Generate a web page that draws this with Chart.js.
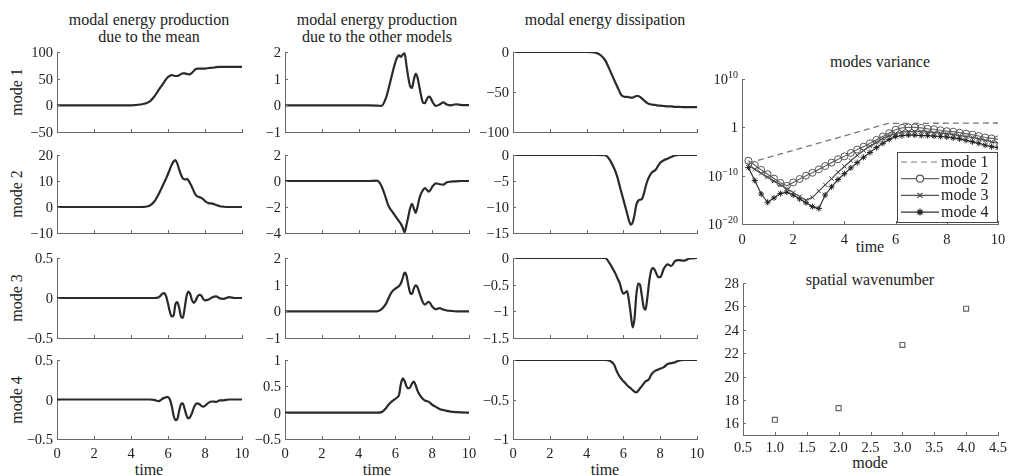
<!DOCTYPE html>
<html>
<head>
<meta charset="utf-8">
<script src="https://cdn.jsdelivr.net/npm/chart.js@4.4.1/dist/chart.umd.min.js"></script>
<style>
  body { margin: 0; background: #fff; width: 1011px; height: 476px; position: relative; overflow: hidden; font-family: "Liberation Serif", serif; color: #222; }
  .box { position: absolute; }
  .lbl { position: absolute; font-size: 16px; white-space: nowrap; transform: translate(-50%, -50%); line-height: 1; }
  .rot { transform: translate(-50%, -50%) rotate(-90deg); }
  .tk { position: absolute; font-size: 14.5px; line-height: 1; white-space: nowrap; }
  .tk sup { font-size: 10px; vertical-align: 6px; line-height: 0; }
  .tx { transform: translate(-50%, -50%); }
  .ty { transform: translate(-100%, -50%); }
  .lg { position: absolute; font-size: 16px; line-height: 1; white-space: nowrap; transform: translateY(-50%); }
</style>
</head>
<body>
<script>
// shared time samples for the 12 energy panels
const time = [0, 2, 4, 4.5, 5, 5.25, 5.5, 5.6, 5.7, 5.8, 5.9, 6.0, 6.1, 6.2, 6.3, 6.4, 6.5, 6.6, 6.7, 6.8, 6.9, 7.0,
  7.1, 7.2, 7.3, 7.4, 7.5, 7.6, 7.7, 7.8, 7.9, 8.0, 8.2, 8.4, 8.6, 8.8, 9.0, 9.3, 9.6, 10];

// production due to the mean
const meanMode1 = [0, 0, 0, 1.5, 7, 16, 29, 34, 39, 44, 49, 53, 55.5, 56.5, 56, 55, 55, 56.5, 58.5, 60, 60, 59,
  58, 58.5, 61, 65, 68, 69, 69, 69, 69, 69, 70, 70.5, 71.5, 72, 72, 72, 72, 72];
const meanMode2 = [0, 0, 0, 0, 0.5, 2, 5, 6.5, 8, 9.5, 11, 12.7, 14.5, 16.2, 17.5, 18, 16.8, 14.5, 12.5, 11, 10.6, 10.7,
  10.3, 9, 7.6, 6, 4.7, 4, 3.8, 3.5, 3, 2.3, 1.5, 1.3, 0.8, 0.3, 0.1, 0, 0, 0];
const meanMode3 = [0, 0, 0, 0, 0, 0, 0.01, 0.03, 0.055, 0.06, 0.02, -0.07, -0.17, -0.23, -0.22, -0.08, -0.05, -0.12, -0.23, -0.25, -0.13, 0.02,
  0.08, 0.05, -0.03, -0.06, -0.03, 0.02, 0.04, 0.03, -0.01, -0.03, -0.02, 0.01, 0.02, -0.005, -0.01, 0.01, 0, 0];
const meanMode4 = [0, 0, 0, 0, 0, -0.005, -0.02, -0.01, 0.01, 0.02, 0.03, 0.03, 0, -0.08, -0.2, -0.26, -0.25, -0.15, -0.06, -0.05, -0.12, -0.2,
  -0.24, -0.22, -0.17, -0.1, -0.06, -0.05, -0.06, -0.08, -0.09, -0.08, -0.04, -0.025, -0.03, -0.01, -0.01, 0, 0, 0];

// production due to the other modes
const otherMode1 = [0, 0, 0, 0, -0.01, -0.02, 0.3, 0.55, 0.82, 1.1, 1.38, 1.62, 1.8, 1.87, 1.82, 1.9, 1.95, 1.5, 1.05, 0.72, 0.65, 0.95,
  1.18, 1.05, 0.7, 0.35, 0.1, 0.08, 0.22, 0.33, 0.3, 0.15, -0.02, 0.03, 0.11, 0.03, 0, 0.04, 0.01, 0.01];
const otherMode2 = [0, 0, 0, 0, 0.03, -0.4, -1.4, -1.84, -2.1, -2.3, -2.5, -2.7, -2.9, -3.1, -3.3, -3.6, -3.95, -3.4, -2.75, -2.1, -1.75, -2.1,
  -2.45, -2.0, -1.35, -0.95, -0.7, -0.55, -0.65, -0.82, -0.7, -0.45, -0.18, -0.25, -0.28, -0.1, -0.05, -0.03, 0, 0];
const otherMode3 = [0, 0, 0, 0, 0, 0.08, 0.3, 0.45, 0.6, 0.72, 0.8, 0.85, 0.9, 0.95, 1.05, 1.25, 1.45, 1.35, 1.0, 0.7, 0.65, 0.85,
  0.97, 0.9, 0.7, 0.5, 0.33, 0.25, 0.3, 0.36, 0.3, 0.18, 0.08, 0.12, 0.07, 0.03, 0.02, 0, 0, 0];
const otherMode4 = [0, 0, 0, 0, 0, 0.01, 0.09, 0.14, 0.18, 0.21, 0.24, 0.26, 0.29, 0.34, 0.55, 0.65, 0.6, 0.5, 0.46, 0.48, 0.55, 0.59,
  0.52, 0.42, 0.35, 0.3, 0.26, 0.23, 0.22, 0.21, 0.18, 0.15, 0.11, 0.07, 0.05, 0.035, 0.02, 0.01, 0.005, 0];

// dissipation
const dissMode1 = [0, 0, 0, -1, -10, -22, -35, -40, -45, -50, -54, -55.5, -56, -56, -56.5, -57, -57, -56, -55, -55, -56, -58,
  -60, -62, -64, -65, -65.5, -66, -66, -66.5, -67, -67, -67.5, -68, -68, -68.5, -68.5, -69, -69, -69];
const dissMode2 = [0, 0, 0, 0, -0.05, -0.9, -2.6, -3.5, -4.6, -6.0, -7.3, -8.6, -9.9, -11.2, -12.6, -13.4, -13, -11.6, -9.6, -8.8, -8.6, -8.5,
  -7.6, -6.2, -5.0, -4.2, -3.6, -3.2, -3.0, -2.6, -2.0, -1.5, -1.0, -0.7, -0.4, -0.1, 0, 0, 0, 0];
const dissMode3 = [0, 0, 0, 0, 0, -0.1, -0.25, -0.32, -0.4, -0.47, -0.6, -0.67, -0.65, -0.62, -0.8, -1.05, -1.3, -1.15, -0.7, -0.48, -0.5, -0.7,
  -0.92, -0.97, -0.75, -0.45, -0.25, -0.19, -0.22, -0.3, -0.36, -0.36, -0.2, -0.12, -0.15, -0.06, -0.04, -0.05, -0.01, 0];
const dissMode4 = [0, 0, 0, 0, 0, -0.01, -0.06, -0.12, -0.17, -0.21, -0.24, -0.27, -0.29, -0.32, -0.34, -0.36, -0.38, -0.4, -0.41, -0.39, -0.36, -0.33,
  -0.3, -0.27, -0.26, -0.24, -0.19, -0.16, -0.14, -0.13, -0.12, -0.11, -0.09, -0.05, -0.04, -0.03, -0.01, 0, 0, 0];

// y ranges [min, max, step] per panel (rows = modes, cols = mean / other / dissipation)
const yRanges = [
  [[-50, 100, 50], [-1, 2, 1], [-100, 0, 50]],
  [[-10, 20, 10], [-4, 2, 2], [-15, 0, 5]],
  [[-0.5, 0.5, 0.5], [-1, 2, 1], [-1.5, 0, 0.5]],
  [[-0.5, 0.5, 0.5], [-0.5, 1, 0.5], [-1, 0, 0.5]]
];
const series = [
  [meanMode1, otherMode1, dissMode1],
  [meanMode2, otherMode2, dissMode2],
  [meanMode3, otherMode3, dissMode3],
  [meanMode4, otherMode4, dissMode4]
];
const rowLabels = ['mode 1', 'mode 2', 'mode 3', 'mode 4'];
const timeTicks = [0, 2, 4, 6, 8, 10];

// modes variance, exponents of 10
const varTime = [0.25, 0.5, 0.75, 1, 1.25, 1.5, 1.75, 2, 2.25, 2.5, 2.75, 3, 3.25, 3.5, 3.75, 4, 4.25, 4.5, 4.75, 5,
  5.25, 5.5, 5.75, 6, 6.25, 6.5, 6.75, 7, 7.25, 7.5, 7.75, 8, 8.25, 8.5, 8.75, 9, 9.25, 9.5, 9.75, 10];
const varMode1Time = [0.25, 5.7, 10];
const varMode1Exp = [-7.4, 0.8, 0.9];
const varMode2Exp = [-6.9, -7.8, -8.8, -9.7, -10.6, -11.5, -12.1, -11.4, -10.7, -10.0, -9.4, -8.7, -8.0, -7.3, -6.6, -6.0, -5.3, -4.6, -4.0, -3.3,
  -2.6, -1.9, -1.2, -0.5, -0.1, 0, 0, -0.1, -0.3, -0.4, -0.6, -0.8, -0.9, -1.1, -1.3, -1.5, -1.8, -2.1, -2.3, -2.5];
const varMode3Exp = [-7.9, -8.7, -9.5, -10.3, -11.1, -11.9, -12.7, -13.5, -14.3, -15.1, -14.5, -13.2, -11.9, -10.6, -9.3, -8.1, -6.9, -5.8, -4.8, -3.9,
  -3.1, -2.3, -1.7, -1.3, -1.0, -0.9, -0.9, -0.9, -1.0, -1.1, -1.2, -1.3, -1.5, -1.7, -1.9, -2.1, -2.4, -2.7, -3.0, -3.3];
const varMode4Exp = [-8.3, -11.0, -13.8, -15.5, -14.6, -13.7, -13.4, -14.0, -14.8, -15.6, -16.4, -16.8, -14.0, -12.3, -10.8, -9.6, -8.4, -7.3, -6.2, -5.2,
  -4.2, -3.3, -2.5, -1.9, -1.7, -1.6, -1.6, -1.7, -1.7, -1.8, -1.9, -2.0, -2.2, -2.4, -2.7, -3.0, -3.3, -3.7, -4.0, -4.2];
const varTickExps = [-20, -10, 0, 10];

// spatial wavenumber
const modeNumbers = [1, 2, 3, 4];
const wavenumbers = [16.3, 17.3, 22.7, 25.8];
const waveYTicks = [16, 18, 20, 22, 24, 26, 28];
const modeXTicks = [0.5, 1.0, 1.5, 2.0, 2.5, 3.0, 3.5, 4.0, 4.5];

const AXIS = '#6a6a6a';
const LINE = '#2a2a2a';

function minus(v) { return String(v).replace('-', '\u2212'); }

const inwardTicks = {
  id: 'inwardTicks',
  afterDraw(chart) {
    const ctx = chart.ctx, a = chart.chartArea;
    const xs = chart.scales.x, ys = chart.scales.y;
    ctx.save();
    ctx.strokeStyle = AXIS;
    ctx.lineWidth = 1;
    xs.ticks.forEach(t => {
      const p = Math.round(xs.getPixelForValue(t.value)) + 0.5;
      ctx.beginPath(); ctx.moveTo(p, a.bottom); ctx.lineTo(p, a.bottom - 3); ctx.stroke();
    });
    ys.ticks.forEach(t => {
      const p = Math.round(ys.getPixelForValue(t.value)) + 0.5;
      ctx.beginPath(); ctx.moveTo(a.left, p); ctx.lineTo(a.left + 3, p); ctx.stroke();
    });
    ctx.restore();
  }
};

// tick labels as html text, placed from the chart's own scales
function htmlTicks(fmtX, fmtY, gapX) {
  return {
    id: 'htmlTicks',
    afterDraw(chart) {
      const box = chart.canvas.parentNode, a = chart.chartArea;
      box.querySelectorAll('.tk').forEach(e => e.remove());
      const put = (html, x, y, cls) => {
        const d = document.createElement('div');
        d.className = 'tk ' + cls;
        d.innerHTML = html;
        d.style.left = x + 'px';
        d.style.top = y + 'px';
        box.appendChild(d);
      };
      if (fmtX) chart.scales.x.ticks.forEach((t, i) => put(fmtX(t.value, i), chart.scales.x.getPixelForValue(t.value), a.bottom + gapX, 'tx'));
      chart.scales.y.ticks.forEach((t, i) => put(fmtY(t.value, i), a.left - 4, chart.scales.y.getPixelForValue(t.value), 'ty'));
    }
  };
}

const legendBox = {
  id: 'legendBox',
  afterDraw(chart) {
    const ctx = chart.ctx, a = chart.chartArea, box = chart.canvas.parentNode;
    const w = 100, h = 70, x0 = a.right - w - 1, y0 = a.bottom - h - 2;
    box.querySelectorAll('.lg').forEach(e => e.remove());
    ctx.save();
    ctx.fillStyle = '#fff';
    ctx.fillRect(x0, y0, w, h);
    ctx.strokeStyle = '#444';
    ctx.lineWidth = 1;
    ctx.strokeRect(Math.round(x0) + 0.5, Math.round(y0) + 0.5, w, h);
    chart.data.datasets.forEach((ds, i) => {
      const y = y0 + 10 + i * 16.7;
      ctx.strokeStyle = ds.borderColor;
      ctx.lineWidth = 1.2;
      ctx.setLineDash(ds.borderDash || []);
      ctx.beginPath(); ctx.moveTo(x0 + 4, y); ctx.lineTo(x0 + 42, y); ctx.stroke();
      ctx.setLineDash([]);
      if (ds.pointStyle && ds.pointRadius > 0) {
        ctx.fillStyle = '#fff';
        ctx.strokeStyle = ds.pointBorderColor;
        Chart.helpers.drawPoint(ctx, { pointStyle: ds.pointStyle, radius: 3.5, borderWidth: 1, rotation: 0 }, x0 + 23, y);
      }
      const d = document.createElement('div');
      d.className = 'lg';
      d.textContent = ds.label;
      d.style.left = (x0 + 44) + 'px';
      d.style.top = y + 'px';
      box.appendChild(d);
    });
    ctx.restore();
  }
};

function addLabel(text, x, y, rot) {
  const d = document.createElement('div');
  d.className = 'lbl' + (rot ? ' rot' : '');
  d.textContent = text;
  d.style.left = x + 'px';
  d.style.top = y + 'px';
  document.body.appendChild(d);
}

function makeBox(area, pad) {
  const div = document.createElement('div');
  div.className = 'box';
  div.style.left = (area.l - pad.l) + 'px';
  div.style.top = (area.t - pad.t) + 'px';
  div.style.width = (area.r - area.l + pad.l + pad.r) + 'px';
  div.style.height = (area.b - area.t + pad.t + pad.b) + 'px';
  const c = document.createElement('canvas');
  div.appendChild(c);
  document.body.appendChild(div);
  return c;
}

function axisBase(pad, horizontal) {
  return {
    grid: { display: false, drawTicks: false },
    border: { display: true, color: AXIS, width: 1 },
    ticks: { display: false },
    afterFit: s => { if (horizontal) s.height = pad.b; else s.width = pad.l; }
  };
}

function baseOptions(pad, xScale, yScale) {
  return {
    responsive: true, maintainAspectRatio: false, animation: false,
    layout: { padding: { left: 0, top: pad.t, right: pad.r, bottom: 0 } },
    plugins: { legend: { display: false }, tooltip: { enabled: false } },
    scales: { x: Object.assign(axisBase(pad, true), xScale), y: Object.assign(axisBase(pad, false), yScale) }
  };
}

const colL = [57, 285, 513], colR = [242, 469, 697];
const rowT = [52, 155, 258, 360], rowB = [132, 233, 338, 439];

for (let r = 0; r < 4; r++) addLabel(rowLabels[r], 17, (rowT[r] + rowB[r]) / 2, true);
addLabel('time', 149, 470);
addLabel('time', 377, 470);
addLabel('time', 605, 470);
addLabel('modal energy production', 149, 20);
addLabel('due to the mean', 149, 37);
addLabel('modal energy production', 377, 20);
addLabel('due to the other models', 377, 37);
addLabel('modal energy dissipation', 605, 20);
addLabel('modes variance', 880, 62);
addLabel('time', 870, 247);
addLabel('spatial wavenumber', 870, 280);
addLabel('mode', 870, 463);

for (let r = 0; r < 4; r++) {
  for (let c = 0; c < 3; c++) {
    const last = r === 3;
    const area = { l: colL[c], r: colR[c], t: rowT[r], b: rowB[r] };
    const pad = { l: c === 0 ? 50 : 42, t: 10, r: 14, b: last ? 26 : 2 };
    const [ymin, ymax, ystep] = yRanges[r][c];
    new Chart(makeBox(area, pad), {
      type: 'line',
      data: {
        datasets: [{
          data: time.map((t, i) => ({ x: t, y: series[r][c][i] })),
          borderColor: LINE, borderWidth: 2.2, pointRadius: 0,
          cubicInterpolationMode: 'monotone'
        }]
      },
      options: baseOptions(pad,
        { type: 'linear', min: 0, max: 10, afterBuildTicks: s => { s.ticks = timeTicks.map(v => ({ value: v })); } },
        { min: ymin, max: ymax, ticks: { display: false, stepSize: ystep } }),
      plugins: [inwardTicks, htmlTicks(last ? v => String(v) : null, v => minus(v), 14)]
    });
  }
}

// modes variance
{
  const area = { l: 742, r: 998, t: 79, b: 224 };
  const pad = { l: 42, t: 10, r: 12, b: 22 };
  const pts = exps => exps.map((e, i) => ({ x: varTime[i], y: Math.pow(10, e) }));
  new Chart(makeBox(area, pad), {
    type: 'line',
    data: {
      datasets: [
        { label: 'mode 1', data: varMode1Time.map((t, i) => ({ x: t, y: Math.pow(10, varMode1Exp[i]) })),
          borderColor: '#7a7a7a', borderWidth: 1.3, borderDash: [6, 4], pointRadius: 0, pointStyle: false },
        { label: 'mode 2', data: pts(varMode2Exp), borderColor: '#666', borderWidth: 1.2,
          pointStyle: 'circle', pointRadius: 3.5, pointBorderColor: '#555', pointBackgroundColor: 'rgba(255,255,255,0)', pointBorderWidth: 1 },
        { label: 'mode 3', data: pts(varMode3Exp), borderColor: '#555', borderWidth: 1.2,
          pointStyle: 'crossRot', pointRadius: 3, pointBorderColor: '#444', pointBorderWidth: 1 },
        { label: 'mode 4', data: pts(varMode4Exp), borderColor: '#333', borderWidth: 1.2,
          pointStyle: 'star', pointRadius: 3, pointBorderColor: '#222', pointBorderWidth: 1 }
      ]
    },
    options: baseOptions(pad,
      { type: 'linear', min: 0, max: 10, afterBuildTicks: s => { s.ticks = timeTicks.map(v => ({ value: v })); } },
      { type: 'logarithmic', min: 1e-20, max: 1e10, afterBuildTicks: s => { s.ticks = varTickExps.map(e => ({ value: Math.pow(10, e) })); } }),
    plugins: [inwardTicks, legendBox,
      htmlTicks(v => String(v), (v, i) => varTickExps[i] === 0 ? '1' : '10<sup>' + minus(varTickExps[i]) + '</sup>', 15)]
  });
}

// spatial wavenumber
{
  const area = { l: 743, r: 998, t: 283, b: 435 };
  const pad = { l: 42, t: 10, r: 12, b: 20 };
  new Chart(makeBox(area, pad), {
    type: 'scatter',
    data: {
      datasets: [{
        data: modeNumbers.map((m, i) => ({ x: m, y: wavenumbers[i] })),
        pointStyle: 'rect', pointRadius: 3.5, pointBorderColor: '#666', pointBackgroundColor: 'rgba(255,255,255,0)', pointBorderWidth: 1.2
      }]
    },
    options: baseOptions(pad,
      { type: 'linear', min: 0.5, max: 4.5, afterBuildTicks: s => { s.ticks = modeXTicks.map(v => ({ value: v })); } },
      { min: 15, max: 28, afterBuildTicks: s => { s.ticks = waveYTicks.map(v => ({ value: v })); } }),
    plugins: [inwardTicks, htmlTicks(v => v.toFixed(1), v => String(v), 12)]
  });
}
</script>
</body>
</html>
